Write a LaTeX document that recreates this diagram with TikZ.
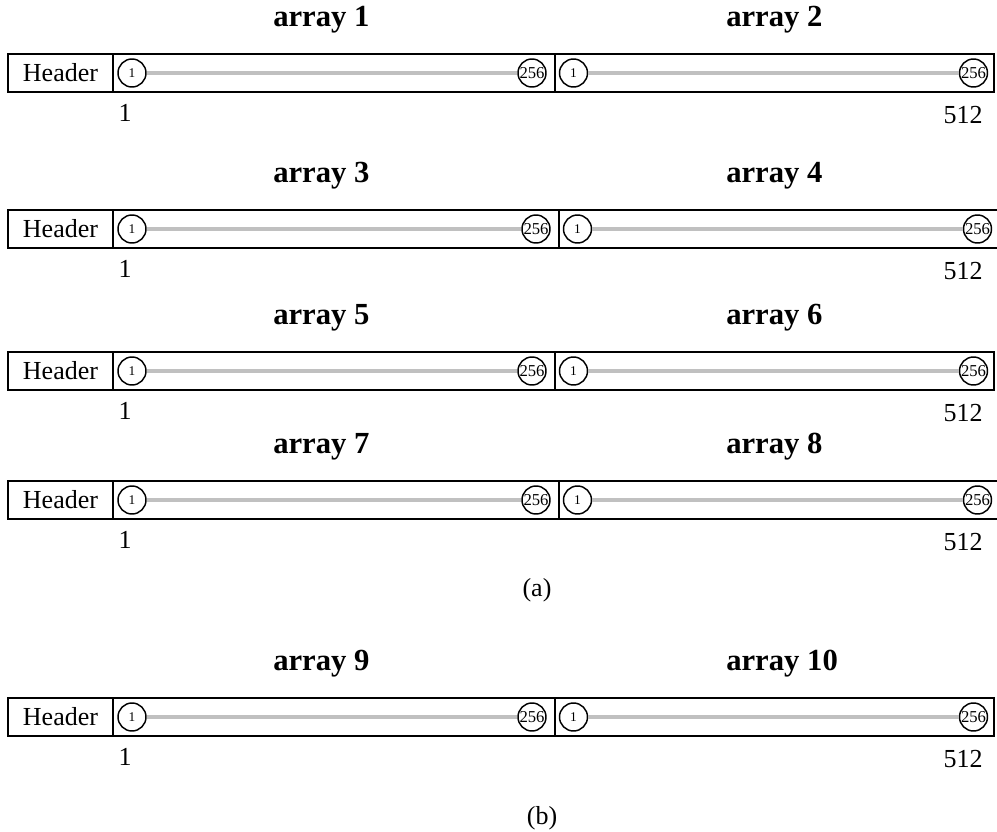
\documentclass[tikz,border=0pt]{standalone}
\usepackage{fontspec}
\setmainfont{Liberation Serif}
\definecolor{linegray}{RGB}{192,192,192}
\tikzset{
  cell/.style={draw, line width=1.3pt, inner sep=0pt, minimum height=28.5pt},
  hdr/.style={cell, minimum width=78.75pt, font=\fontsize{19.5}{22}\selectfont},
  slot/.style={circle, draw, line width=1.1pt, fill=white, minimum size=21pt, inner sep=0pt},
  slotone/.style={slot, font=\fontsize{10}{11}\selectfont},
  slotlast/.style={slot, font=\fontsize{12.5}{13}\selectfont},
  ttl/.style={anchor=west, inner sep=0pt, font=\bfseries\fontsize{23}{26}\selectfont},
  lbl/.style={inner sep=0pt, font=\fontsize{19.5}{22}\selectfont},
  fill line/.style={draw=linegray, line width=3pt}
}
\begin{document}
\begin{tikzpicture}[x=0.75pt,y=-0.75pt]
\useasboundingbox (0,0) rectangle (997,832);
\foreach \T/\s/\a/\b/\r in {54/0/1/2/1, 210/4/3/4/2, 352/0/5/6/3, 481/4/7/8/4, 698/0/9/10/5}{
  \pgfmathsetmacro\ym{\T+19}
  \pgfmathsetmacro\yt{\T-34}
  \pgfmathsetmacro\yl{\T+59}
  \pgfmathsetmacro\ylb{\T+61}
  \pgfmathsetmacro\xa{334+\s/2}
  \pgfmathsetmacro\wa{(442+\s)*0.75}
  \pgfmathsetmacro\xb{774.5+\s}
  \pgfmathsetmacro\xal{532+\s}
  \pgfmathsetmacro\xbf{573.5+\s}
  \pgfmathsetmacro\xbl{973.5+\s}
  \node[ttl] (ta\r) at (273,\yt) {array \a};
  \node[ttl] (tb\r) at (726,\yt) {array \b};
  \node[hdr] (hdr\r) at (60.5,\ym) {Header};
  \node[cell, minimum width=\wa pt] (sa\r) at (\xa,\ym) {};
  \node[cell, minimum width=329.25pt] (sb\r) at (\xb,\ym) {};
  \node[slotone] (af\r) at (132,\ym) {1};
  \node[slotlast] (al\r) at (\xal,\ym) {256};
  \node[slotone] (bf\r) at (\xbf,\ym) {1};
  \node[slotlast] (bl\r) at (\xbl,\ym) {256};
  \draw[fill line] (af\r) -- (al\r);
  \draw[fill line] (bf\r) -- (bl\r);
  \node[lbl] (lo\r) at (125,\yl) {1};
  \node[lbl] (hi\r) at (963,\ylb) {512};
}
\node[lbl] (capa) at (537,590) {(a)};
\node[lbl] (capb) at (542,818) {(b)};
\end{tikzpicture}
\end{document}
